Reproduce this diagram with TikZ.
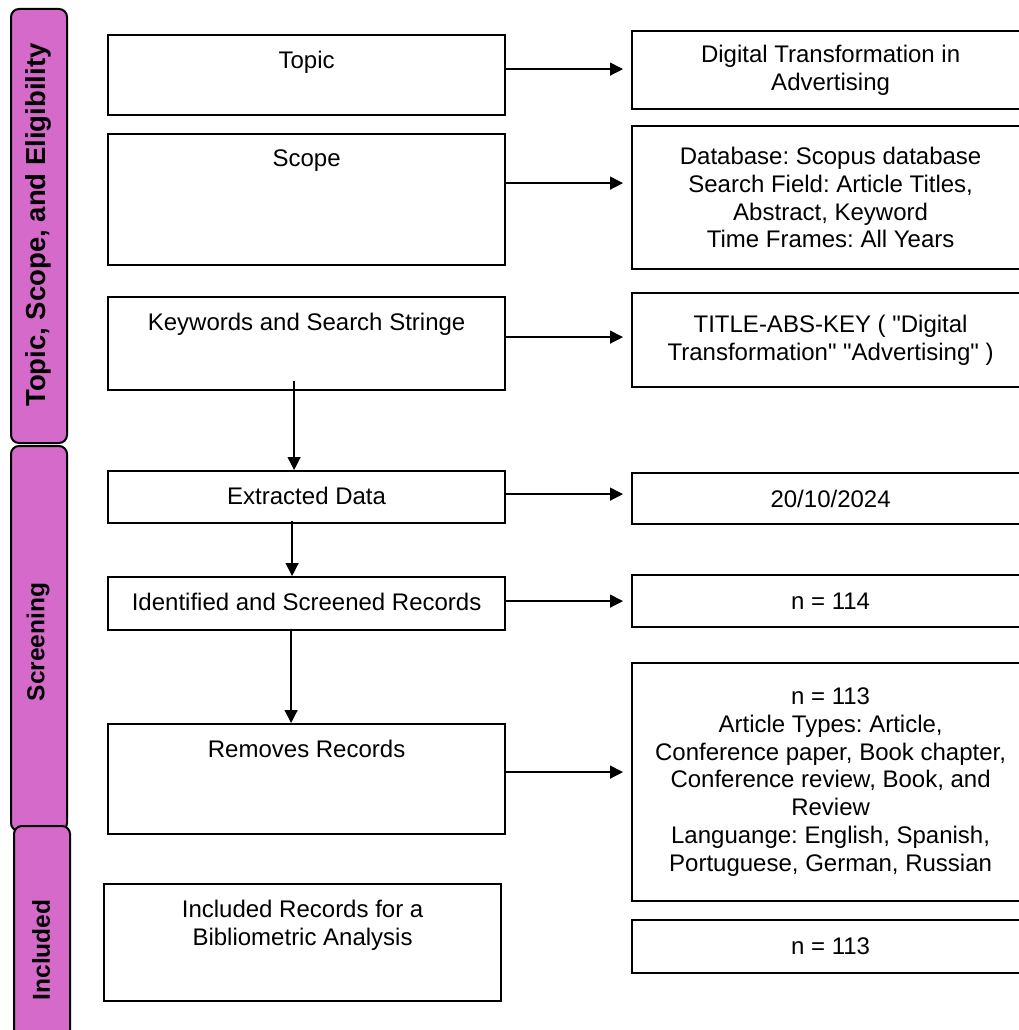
\documentclass[tikz,border=0pt]{standalone}
\usepackage{fontspec}
\newfontfamily\arialfont{Liberation Sans}
\usetikzlibrary{arrows.meta,positioning}
\definecolor{tabpink}{RGB}{214,106,203}

\begin{document}
\frenchspacing
\begin{tikzpicture}[x=1pt,y=-1pt,>={Triangle[length=13pt,width=13pt]},
    font=\arialfont\fontsize{24}{27.7}\selectfont,
    box/.style={draw,line width=2.2pt,inner sep=0pt,anchor=north west,minimum width=397pt,align=center},
    lbl/.style={label={[anchor=north,yshift=-17pt,inner sep=0pt,align=center]north:#1}},
    tab/.style={draw,line width=2pt,fill=tabpink,rounded corners=8pt,anchor=north west,minimum width=56pt,inner sep=0pt},
    tabtxt/.style={rotate=90,font=\arialfont\bfseries\fontsize{#1}{28}\selectfont},
    arr/.style={->,line width=1.3pt}]
\useasboundingbox (0,0) rectangle (1019,1030);
% phase tabs
\node[tab,minimum height=434pt] (tse) at (10,8) {};
\node[tab,minimum height=385pt] (tsc) at (10,445) {};
\node[tab,minimum height=212pt] (tin) at (13,825) {};
\node[tabtxt=27.5] (tsetxt) at (38,225) {Topic, Scope, and Eligibility};
\node[tabtxt=24.5] (tsctxt) at (38,642) {Screening};
\node[tabtxt=24.5] (tintxt) at (41,950) {Included};
% left column
\node[box,minimum height=80pt,lbl=Topic] (topic) at (107,34) {};
\node[box,minimum height=131pt,lbl=Scope] (scope) at (107,133) {};
\node[box,minimum height=93pt,lbl=Keywords and Search Stringe] (kw) at (107,296) {};
\node[box,minimum height=52pt,lbl=Extracted Data] (ext) at (107,470) {};
\node[box,minimum height=53pt,lbl=Identified and Screened Records] (idf) at (107,576) {};
\node[box,minimum height=110pt,lbl=Removes Records] (rem) at (107,723) {};
\node[box,minimum height=117pt,lbl={Included Records for a\\Bibliometric Analysis}] (inc) at (103,883) {};
% right column
\node[box,minimum height=78pt] (dig) at (631,30) {Digital Transformation in\\Advertising};
\node[box,minimum height=143pt] (db) at (631,125) {Database: Scopus database\\Search Field: Article Titles,\\Abstract, Keyword\\Time Frames: All Years};
\node[box,minimum height=94pt] (tak) at (631,292) {TITLE-ABS-KEY ( "Digital\\Transformation" "Advertising" )};
\node[box,minimum height=51pt] (date) at (631,472) {20/10/2024};
\node[box,minimum height=52pt] (n114) at (631,574) {n = 114};
\node[box,minimum height=238pt] (n113a) at (631,662) {n = 113\\Article Types: Article,\\Conference paper, Book chapter,\\Conference review, Book, and\\Review\\Languange: English, Spanish,\\Portuguese, German, Russian};
\node[box,minimum height=53pt] (n113b) at (631,919) {n = 113};
% arrows
\foreach \a/\b/\s in {topic/dig/6,scope/db/16.5,kw/tak/6.5,ext/date/3,idf/n114/2.5,rem/n113a/7}
    \draw[arr,shorten >=8pt] ([yshift=\s pt]\a.east) -- ([yshift=\s pt]\a.east -| \b.west);
\draw[arr] ([xshift=-12.5pt,yshift=10pt]kw.south) -- ([xshift=-12.5pt]ext.north);
\draw[arr] ([xshift=-14.5pt,yshift=3pt]ext.south) -- ([xshift=-14.5pt]idf.north);
\draw[arr] ([xshift=-15.5pt]idf.south) -- ([xshift=-15.5pt]rem.north);
\end{tikzpicture}
\end{document}
